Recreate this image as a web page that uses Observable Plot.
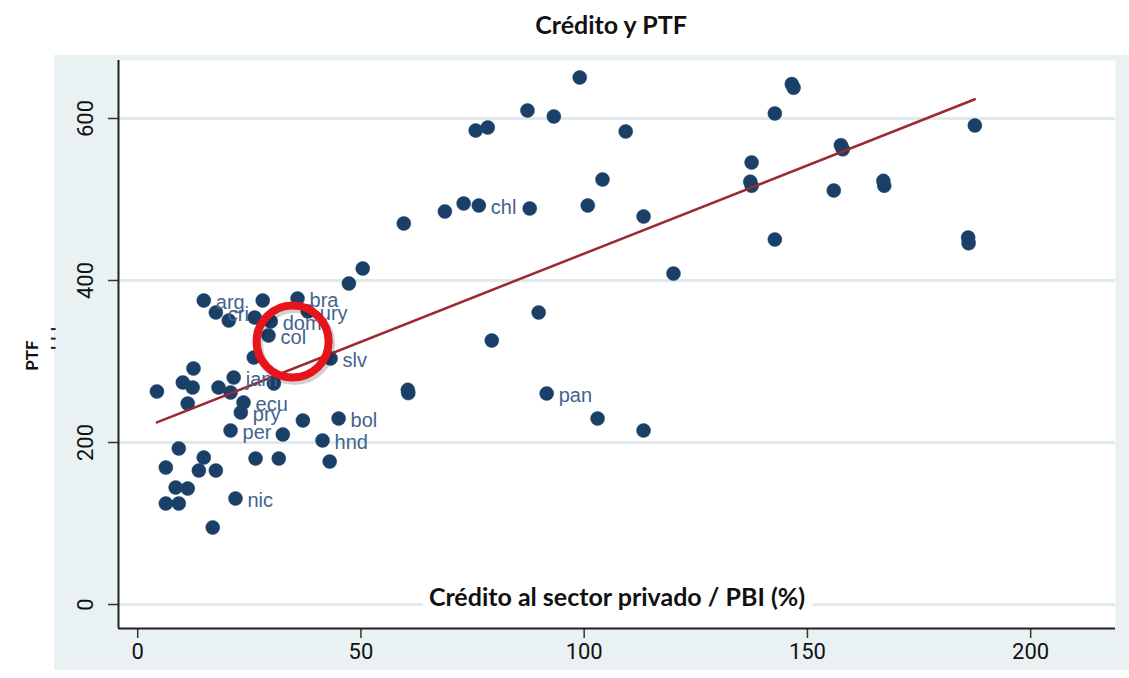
<!DOCTYPE html>
<html>
<head>
<meta charset="utf-8">
<script src="https://cdn.jsdelivr.net/npm/d3@7"></script>
<script src="https://cdn.jsdelivr.net/npm/@observablehq/plot@0.6"></script>
<style>
  html, body { margin: 0; padding: 0; background: #f3f3f3; }
  #page { position: absolute; left: 0; top: 0; width: 1129px; height: 678px; background: #ffffff; overflow: hidden; }
  #title { position: absolute; top: 9px; left: 0; width: 1222px; text-align: center;
    font-family: Lato, "Open Sans", sans-serif;
    font-weight: bold; font-size: 25px; color: #111; }
  #chart { position: absolute; top: 55px; left: 0; width: 1129px; height: 615px;
    background: linear-gradient(to right, #ffffff 54px, #e9f1f3 54px); }
  #chart svg { background: transparent !important; }
</style>
</head>
<body>
<div id="page">
  <div id="title">Crédito y PTF</div>
  <div id="chart"></div>
</div>
<script>
// Crédito al sector privado / PBI (%)
const credito = [99.0, 87.3, 93.2, 75.7, 78.4, 109.3, 146.5, 146.9, 142.7, 187.5,
  137.5, 137.2, 137.5, 157.5, 157.9, 155.9, 167.0, 167.2, 142.7, 186.0,
  186.1, 104.1, 100.8, 113.3, 87.8, 120.0, 89.8, 79.3, 59.6, 68.8,
  73.0, 76.4, 60.5, 60.6, 91.6, 103.0, 113.3, 50.4, 47.3, 14.8,
  17.5, 20.4, 28.0, 35.8, 26.2, 29.8, 38.1, 29.3, 26.0, 43.2,
  12.5, 10.1, 4.3, 12.3, 18.1, 21.5, 30.5, 20.8, 11.2, 23.7,
  23.1, 37.0, 45.0, 20.8, 32.5, 41.4, 9.2, 26.4, 31.6, 43.0,
  6.3, 14.8, 13.7, 17.5, 8.5, 11.2, 21.9, 6.3, 9.2, 16.8];
// PTF
const ptf = [650.6, 609.9, 602.5, 585.2, 588.9, 584.0, 642.5, 638.0, 606.2, 591.4,
  545.7, 522.0, 517.0, 567.0, 562.0, 511.1, 523.0, 517.0, 450.6, 453.0,
  446.0, 524.7, 492.6, 479.0, 488.9, 408.6, 360.5, 325.9, 470.4, 485.2,
  495.1, 492.6, 265.0, 261.0, 260.5, 229.6, 214.8, 414.8, 396.3, 375.3,
  360.5, 350.6, 375.3, 377.8, 354.3, 349.4, 361.7, 332.1, 304.9, 303.7,
  291.4, 274.1, 263.0, 267.9, 267.9, 280.2, 272.8, 261.7, 248.1, 249.4,
  237.0, 227.2, 229.6, 214.8, 209.9, 202.5, 192.6, 180.2, 180.2, 176.5,
  169.1, 181.5, 165.4, 165.4, 144.4, 143.2, 130.9, 124.7, 124.7, 95.1];
// country labels ("" = unlabeled)
const pais = ["", "", "", "", "", "", "", "", "", "",
  "", "", "", "", "", "", "", "", "", "",
  "", "", "", "", "", "", "", "", "", "",
  "", "chl", "", "", "pan", "", "", "", "", "arg",
  "cri", "", "", "bra", "", "dom", "ury", "col", "", "slv",
  "", "", "", "", "", "jam", "", "", "", "ecu",
  "pry", "", "bol", "per", "", "hnd", "", "", "", "",
  "", "", "", "", "", "", "nic", "", "", ""];

const xTicks = [0, 50, 100, 150, 200];
const yTicks = [0, 200, 400, 600];
const xDomain = [-4.3, 219];
const yDomain = [-29.6, 671.6];
const highlight = [{x: 34.7, y: 324.7}];   // red ring around "col"
const xTitle = "Crédito al sector privado / PBI (%)";
const yTitle = "PTF";

const data = credito.map((c, i) => ({x: c, y: ptf[i], label: pais[i]}));
const labeled = data.filter(d => d.label !== "");

const narrow = "'Liberation Sans Narrow', Roboto, 'Liberation Sans', sans-serif";
const lato = "Lato, 'Open Sans', sans-serif";
const arial = "'Liberation Sans', Arial, sans-serif";

const chart = Plot.plot({
  width: 1129,
  height: 615,
  marginLeft: 118,
  marginRight: 14,
  marginTop: 5,
  marginBottom: 42,
  style: {background: "transparent", overflow: "visible"},
  x: {domain: xDomain, axis: null},
  y: {domain: yDomain, axis: null},
  marks: [
    Plot.frame({fill: "white", stroke: null}),
    Plot.ruleY(yTicks, {stroke: "#e0eaed", strokeWidth: 3}),
    Plot.axisX(xTicks, {tickSize: 10, tickPadding: 5, fontSize: 22, fontFamily: narrow,
      stroke: "#333", strokeWidth: 1.5, fill: "#111", label: null}),
    Plot.axisY(yTicks, {tickSize: 10, tickFormat: () => "", stroke: "#333", strokeWidth: 1.5, label: null}),
    Plot.text(yTicks, {y: d => d, text: d => String(d), frameAnchor: "left", textAnchor: "middle",
      dx: -33, rotate: -90, fontSize: 22, fontFamily: narrow, fill: "#111"}),
    Plot.ruleX([xDomain[0]], {stroke: "#222", strokeWidth: 2}),
    Plot.ruleY([yDomain[0]], {stroke: "#222", strokeWidth: 2}),
    Plot.text([xTitle], {frameAnchor: "bottom", lineAnchor: "middle", dy: -31, fontSize: 25, fontWeight: "bold",
      fontFamily: lato, fill: "#111", stroke: "white", strokeWidth: 18, paintOrder: "stroke"}),
    Plot.text([yTitle], {frameAnchor: "left", textAnchor: "middle", dx: -86, dy: 11, rotate: -90,
      fontSize: 17, fontWeight: "bold", fontFamily: lato, fill: "#111"}),
    Plot.text(["' ' '"], {frameAnchor: "left", textAnchor: "middle", dx: -60, dy: -6, rotate: -90,
      fontSize: 18, fontWeight: "bold", fontFamily: arial, fill: "#222"}),
    Plot.dot(data, {x: "x", y: "y", r: 7, fill: "#1b4068", stroke: "#1b4068", strokeWidth: 0.5}),
    Plot.linearRegressionY(data, {x: "x", y: "y", ci: 0, stroke: "#9b2a30", strokeWidth: 2.5}),
    Plot.text(labeled, {x: "x", y: "y", text: "label", dx: 12, dy: 2, textAnchor: "start",
      fontSize: 20, fontFamily: arial, fill: "#44638c"}),
    Plot.dot(highlight, {x: "x", y: "y", r: 36, fill: "none", stroke: "rgba(0,0,0,0.18)", strokeWidth: 9, dx: 2, dy: 3}),
    Plot.dot(highlight, {x: "x", y: "y", r: 36, fill: "none", stroke: "#e8141c", strokeWidth: 8})
  ]
});
document.getElementById("chart").appendChild(chart);
</script>
</body>
</html>
